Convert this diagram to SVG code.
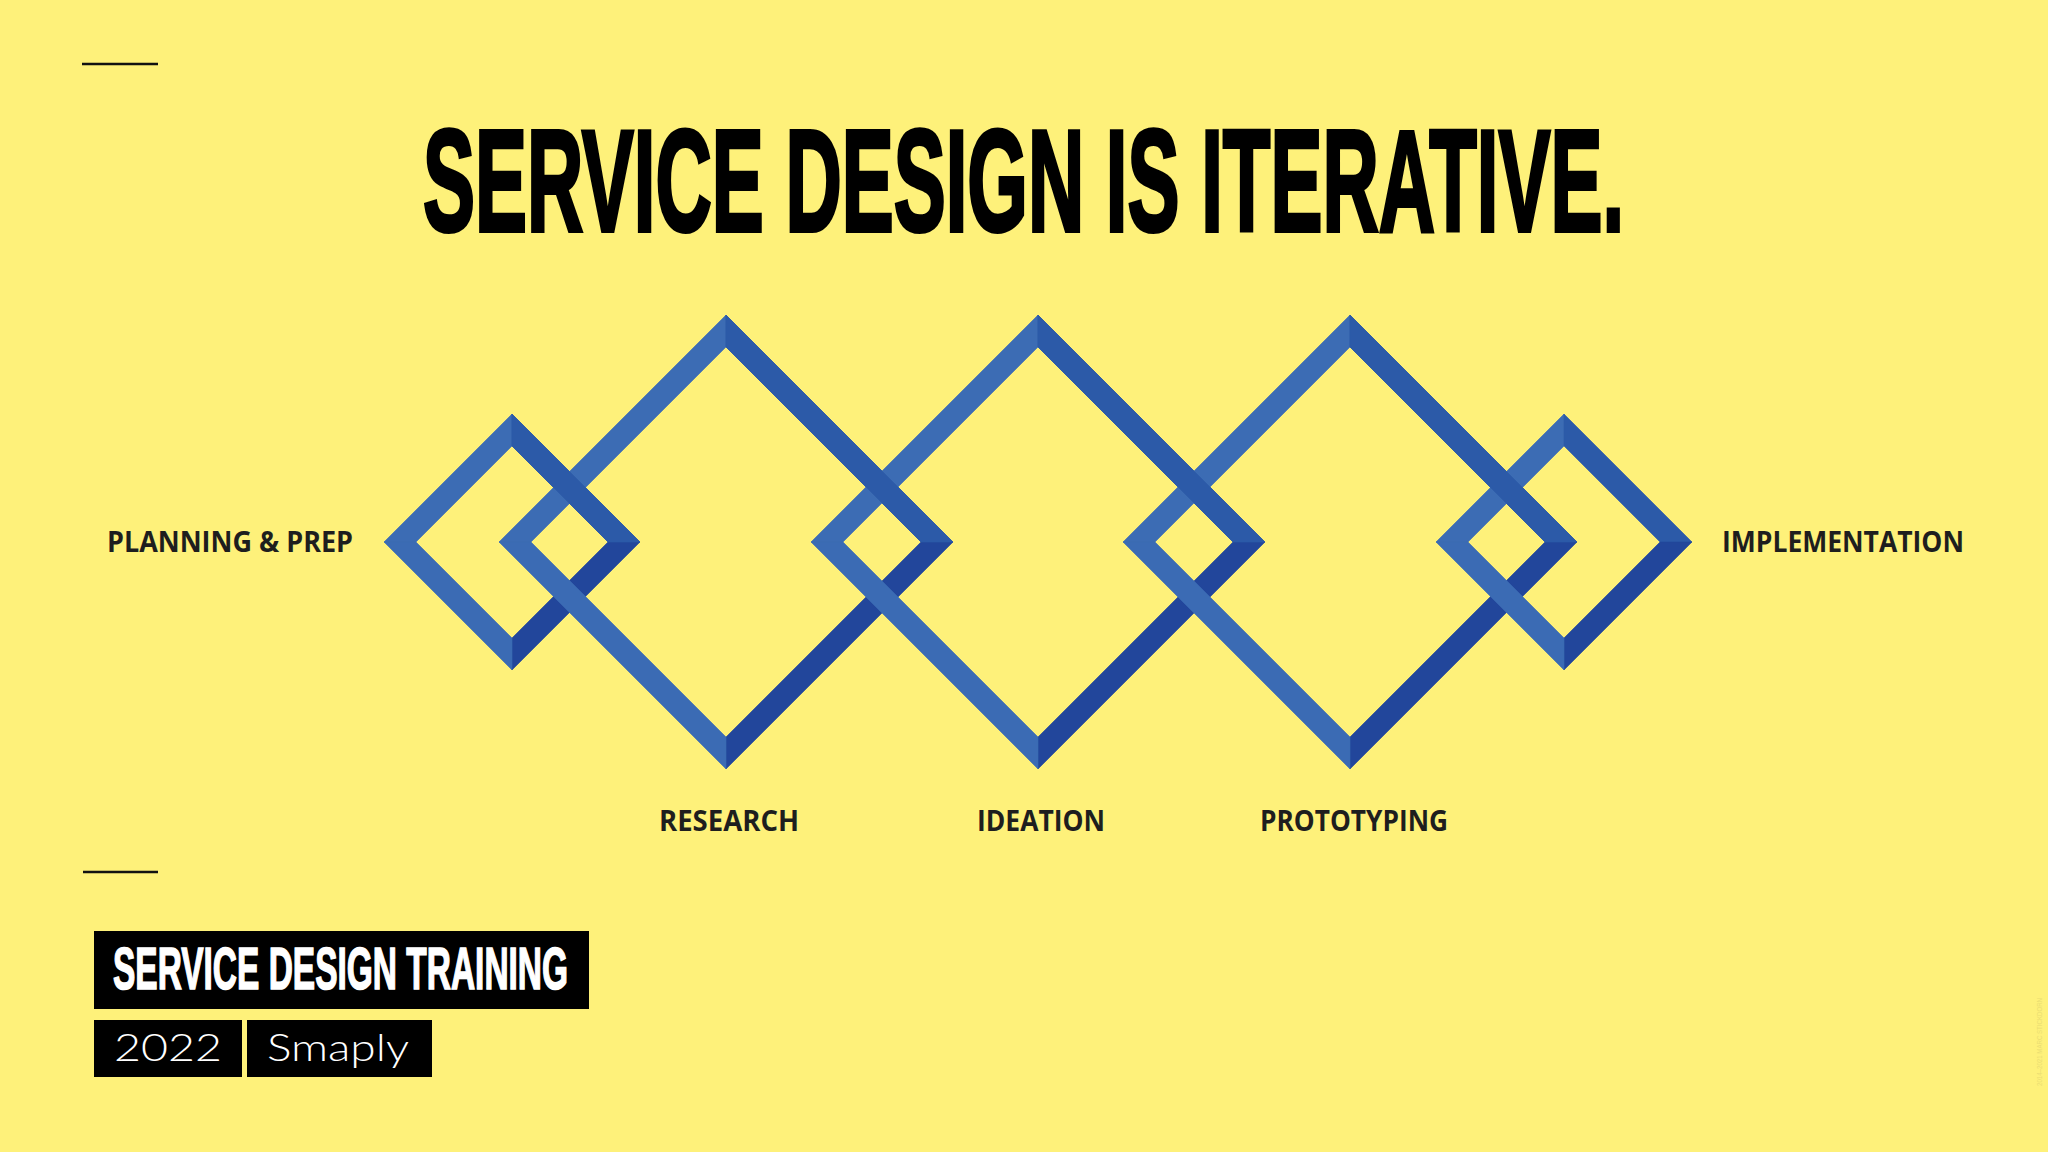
<svg xmlns="http://www.w3.org/2000/svg" xmlns:xlink="http://www.w3.org/1999/xlink" width="2048" height="1152" viewBox="0 0 2048 1152">
<style>
.ul{fill:#3c6cb4;stroke:#3c6cb4;stroke-width:0.6}
.ur{fill:#2c5aa8;stroke:#2c5aa8;stroke-width:0.6}
.lr{fill:#22469b;stroke:#22469b;stroke-width:0.6}
.ll{fill:#3b6bb4;stroke:#3b6bb4;stroke-width:0.6}
.lbl{font-family:"Open Sans","Liberation Sans",sans-serif;font-weight:700;font-size:29px;fill:#1e1e1e}
.title{font-family:"Liberation Sans",sans-serif;font-weight:700;font-size:144px;fill:#000;stroke:#000;stroke-width:4}
.rule{stroke:#111;stroke-width:2.5}
.box{fill:#000}
.boxtxt{font-family:"Liberation Sans",sans-serif;font-weight:700;font-size:59px;fill:#fff;stroke:#fff;stroke-width:1.6}
.thin{font-family:Lato,"Liberation Sans",sans-serif;font-weight:300;font-size:37px;fill:#fff}
</style>
<rect width="2048" height="1152" fill="#fef17a"/>
<line class="rule" x1="82" y1="64" x2="158" y2="64"/>
<line class="rule" x1="83" y1="872" x2="158" y2="872"/>
<text class="title" transform="translate(423,231) scale(0.46,1)" x="0" y="0" textLength="2611" lengthAdjust="spacingAndGlyphs">SERVICE DESIGN IS ITERATIVE.</text>

<g id="planning">
<polygon id="d1-ul" class="ul" points="384,542 512,414 512,446 416,542"/>
<polygon id="d1-ur" class="ur" points="512,414 640,542 608,542 512,446"/>
<polygon id="d1-lr" class="lr" points="640,542 512,670 512,638 608,542"/>
<polygon id="d1-ll" class="ll" points="512,670 384,542 416,542 512,638"/>
<text class="lbl" x="107" y="552" textLength="246" lengthAdjust="spacingAndGlyphs">PLANNING &amp; PREP</text>
</g>
<g id="research">
<polygon id="d2-ul" class="ul" points="499,542 726,315 726,347 531,542"/>
<polygon id="d2-ur" class="ur" points="726,315 953,542 921,542 726,347"/>
<polygon id="d2-lr" class="lr" points="953,542 726,769 726,737 921,542"/>
<polygon id="d2-ll" class="ll" points="726,769 499,542 531,542 726,737"/>
<text class="lbl" x="659" y="831" textLength="140" lengthAdjust="spacingAndGlyphs">RESEARCH</text>
</g>
<g id="ideation">
<polygon id="d3-ul" class="ul" points="811,542 1038,315 1038,347 843,542"/>
<polygon id="d3-ur" class="ur" points="1038,315 1265,542 1233,542 1038,347"/>
<polygon id="d3-lr" class="lr" points="1265,542 1038,769 1038,737 1233,542"/>
<polygon id="d3-ll" class="ll" points="1038,769 811,542 843,542 1038,737"/>
<text class="lbl" x="977" y="831" textLength="128" lengthAdjust="spacingAndGlyphs">IDEATION</text>
</g>
<g id="prototyping">
<polygon id="d4-ul" class="ul" points="1123,542 1350,315 1350,347 1155,542"/>
<polygon id="d4-ur" class="ur" points="1350,315 1577,542 1545,542 1350,347"/>
<polygon id="d4-lr" class="lr" points="1577,542 1350,769 1350,737 1545,542"/>
<polygon id="d4-ll" class="ll" points="1350,769 1123,542 1155,542 1350,737"/>
<text class="lbl" x="1260" y="831" textLength="188" lengthAdjust="spacingAndGlyphs">PROTOTYPING</text>
</g>
<g id="implementation">
<polygon id="d5-ul" class="ul" points="1436,542 1564,414 1564,446 1468,542"/>
<polygon id="d5-ur" class="ur" points="1564,414 1692,542 1660,542 1564,446"/>
<polygon id="d5-lr" class="lr" points="1692,542 1564,670 1564,638 1660,542"/>
<polygon id="d5-ll" class="ll" points="1564,670 1436,542 1468,542 1564,638"/>
<text class="lbl" x="1722" y="552" textLength="242" lengthAdjust="spacingAndGlyphs">IMPLEMENTATION</text>
</g>
<g id="connectors">
<use xlink:href="#d1-ur"/>
<use xlink:href="#d2-ur"/>
<use xlink:href="#d3-ur"/>
<use xlink:href="#d4-ur"/>
</g>

<g id="footer">
<rect class="box" x="94" y="931" width="495" height="78"/>
<text class="boxtxt" transform="translate(113,989) scale(0.62,1)" x="0" y="0" textLength="734" lengthAdjust="spacingAndGlyphs">SERVICE DESIGN TRAINING</text>
<rect class="box" x="94" y="1020" width="148" height="57"/>
<text class="thin" x="114" y="1061" textLength="108" lengthAdjust="spacingAndGlyphs">2022</text>
<rect class="box" x="247" y="1020" width="185" height="57"/>
<text class="thin" x="267" y="1061" textLength="142" lengthAdjust="spacingAndGlyphs">Smaply</text>
</g>
<text x="2042" y="1086" transform="rotate(-90 2042 1086)" font-family="Liberation Sans,sans-serif" font-size="8" fill="#ebde72" textLength="88" lengthAdjust="spacingAndGlyphs">2014–2021 MARC STICKDORN</text>
</svg>
